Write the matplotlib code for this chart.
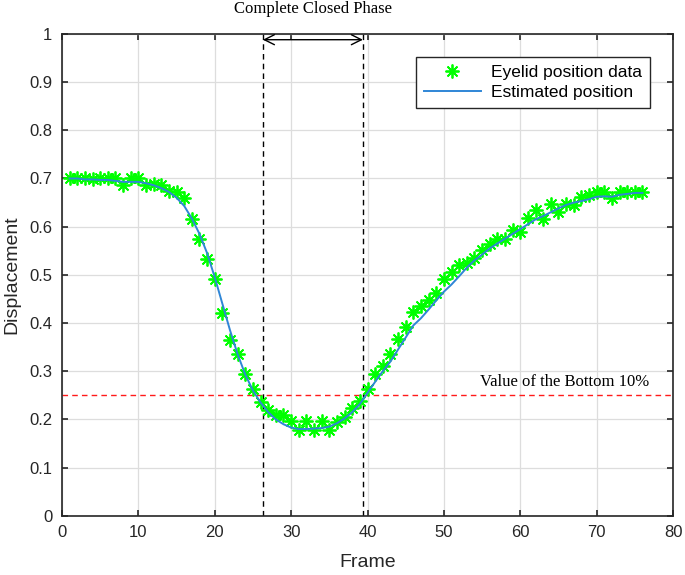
import numpy as np
import matplotlib
matplotlib.use('Agg')
import matplotlib.pyplot as plt

plt.rcParams['font.family'] = ['Liberation Sans', 'DejaVu Sans']

# frame index
frames = np.arange(1, 77)

# measured eyelid position (green asterisks)
eyelid_data = [
    0.700, 0.700, 0.700, 0.699, 0.700, 0.700, 0.700, 0.687, 0.702, 0.700,
    0.687, 0.688, 0.686, 0.674, 0.672, 0.660, 0.616, 0.574, 0.533, 0.492,
    0.421, 0.364, 0.336, 0.294, 0.263, 0.237, 0.220, 0.209, 0.209, 0.197,
    0.179, 0.197, 0.179, 0.197, 0.179, 0.195, 0.206, 0.224, 0.238, 0.264,
    0.294, 0.310, 0.336, 0.366, 0.391, 0.423, 0.435, 0.447, 0.463, 0.491,
    0.505, 0.520, 0.525, 0.535, 0.551, 0.563, 0.575, 0.574, 0.593, 0.589,
    0.617, 0.635, 0.616, 0.647, 0.630, 0.647, 0.645, 0.662, 0.666, 0.672,
    0.672, 0.659, 0.672, 0.672, 0.672, 0.672,
]

# estimated (smoothed) position (blue line)
estimated = [
    0.700, 0.700, 0.698, 0.698, 0.697, 0.697, 0.695, 0.693, 0.693, 0.693,
    0.690, 0.686, 0.680, 0.672, 0.660, 0.643, 0.617, 0.585, 0.545, 0.495,
    0.440, 0.385, 0.335, 0.293, 0.260, 0.235, 0.215, 0.200, 0.190, 0.183,
    0.180, 0.180, 0.181, 0.182, 0.185, 0.192, 0.202, 0.215, 0.232, 0.255,
    0.278, 0.300, 0.320, 0.345, 0.370, 0.395, 0.410, 0.428, 0.447, 0.465,
    0.480, 0.497, 0.515, 0.530, 0.542, 0.555, 0.565, 0.575, 0.585, 0.595,
    0.605, 0.615, 0.622, 0.630, 0.638, 0.645, 0.650, 0.653, 0.657, 0.662,
    0.663, 0.662, 0.666, 0.668, 0.670, 0.670,
]

phase_start = 26.3
phase_end = 39.4
bottom_level = 0.25

x_ticks = np.arange(0, 81, 10)
y_ticks = np.round(np.arange(0, 1.01, 0.1), 1)
y_labels = ['0', '0.1', '0.2', '0.3', '0.4', '0.5', '0.6', '0.7', '0.8', '0.9', '1']

fig = plt.figure(figsize=(6.85, 5.75), dpi=100)
ax = fig.add_axes([0.0905, 0.103, 0.892, 0.838])

ax.grid(True, color='#dddddd', linewidth=0.9)
ax.set_axisbelow(True)

# MATLAB-style '*' = 8 spoke asterisk
ax.plot(frames, eyelid_data, linestyle='none', marker=(8, 2, 0), color='#00ff00',
        markersize=10, markeredgewidth=1.3, label='Eyelid position data', zorder=3)
ax.plot(frames, estimated, color='#2f86d6', linewidth=1.4,
        label='Estimated position', zorder=4)

# annotations
ax.axhline(bottom_level, color='#ff1a1a', linestyle='--', linewidth=1.0, dashes=(4, 3), zorder=2)
ax.axvline(phase_start, color='black', linestyle='--', linewidth=1.0, dashes=(4, 3), zorder=2)
ax.axvline(phase_end, color='black', linestyle='--', linewidth=1.0, dashes=(4, 3), zorder=2)
ax.annotate('', xy=(phase_start, 0.988), xytext=(phase_end, 0.988),
            arrowprops=dict(arrowstyle='<->', color='black', lw=1.0,
                            shrinkA=0, shrinkB=0, mutation_scale=18))
ax.text((phase_start + phase_end) / 2, 1.052, 'Complete Closed Phase',
        family='Liberation Serif', fontsize=12, ha='center', va='center')
ax.text(54.7, 0.277, 'Value of the Bottom 10%', family='Liberation Serif',
        fontsize=12, ha='left', va='center')

ax.set_xlim(0, 80)
ax.set_ylim(0, 1)
ax.set_xticks(x_ticks)
ax.set_yticks(y_ticks)
ax.set_yticklabels(y_labels)
ax.tick_params(direction='in', top=True, right=True, length=4, width=1.2,
               labelsize=12, colors='#262626', labelcolor='#262626', pad=7)
for sp in ax.spines.values():
    sp.set_color('#262626')
    sp.set_linewidth(1.2)

ax.set_xlabel('Frame', fontsize=14, color='#262626', labelpad=10)
ax.set_ylabel('Displacement', fontsize=14, color='#262626', labelpad=6)

leg = ax.legend(loc='upper right', bbox_to_anchor=(0.977, 0.97), fontsize=12.5,
                fancybox=False, framealpha=1, edgecolor='#262626',
                handlelength=3.3, handletextpad=0.6, borderpad=0.45,
                labelspacing=0.3)
leg.get_frame().set_linewidth(1.0)

fig.savefig('out.png', dpi=100)
